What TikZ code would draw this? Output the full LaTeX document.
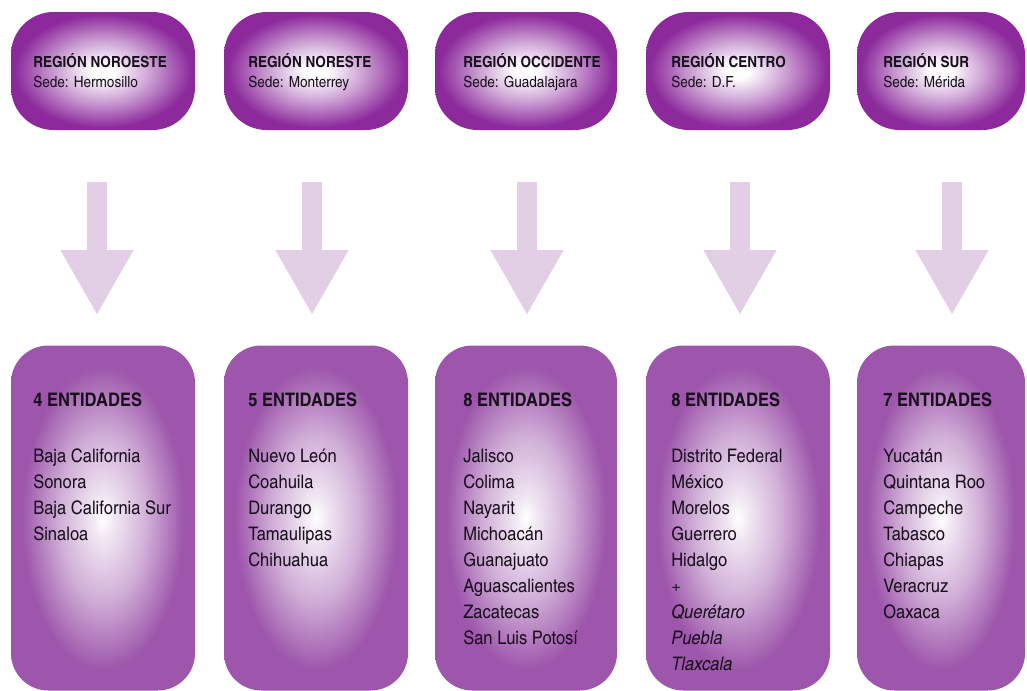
\documentclass[tikz,border=0pt]{standalone}
\usepackage{fontspec}
\setmainfont{texgyreheroscn}[Extension=.otf, UprightFont=*-regular, BoldFont=*-bold, ItalicFont=*-italic, BoldItalicFont=*-bolditalic, FakeStretch=1.08]
\usetikzlibrary{arrows.meta}

\definecolor{regionpurple}{RGB}{140,42,156}
\definecolor{statepurple}{RGB}{157,86,171}
\definecolor{arrowlilac}{RGB}{226,207,230}
\definecolor{textdark}{RGB}{24,14,28}

\pgfdeclareradialshading{regionglow}{\pgfpoint{0bp}{0bp}}{color(0bp)=(white); color(3bp)=(white); color(13bp)=(regionpurple!45!white); color(24bp)=(regionpurple); color(50bp)=(regionpurple)}
\pgfdeclareradialshading{stateglow}{\pgfpoint{0bp}{0bp}}{color(0bp)=(white); color(3bp)=(statepurple!14!white); color(12bp)=(statepurple!48!white); color(22bp)=(statepurple); color(50bp)=(statepurple)}

\newcommand\regionfont{\fontsize{11.5}{15}\selectfont}
\newcommand\statefont{\fontsize{14}{19.5}\selectfont}

\begin{document}
\begin{tikzpicture}[x=0.75pt,y=-0.75pt,
    region/.style={shading=regionglow, rounded corners=32pt, minimum height=88.5pt, inner sep=0pt},
    states/.style={shading=stateglow, rounded corners=28pt, minimum height=258.75pt, inner sep=0pt},
    boxtext/.style={anchor=base west, align=left, inner sep=0pt, text=textdark},
    statearrow/.style={draw=arrowlilac, line width=15pt, shorten <=39pt, shorten >=22.5pt, -{Triangle[width=51pt,length=48.75pt]}}]
  \path[use as bounding box] (0,0) rectangle (1027,690);
  % Regions, arrows and states (text placed by its last baseline).
  \foreach \n/\cx/\w/\tx/\dx/\reg/\sede/\cnt/\last/\list in {
      1/103/184/33/-6/NOROESTE/Hermosillo/4/4/{Baja California\\Sonora\\Baja California Sur\\Sinaloa},
      2/316/184/248/-4/NORESTE/Monterrey/5/5/{Nuevo León\\Coahuila\\Durango\\Tamaulipas\\Chihuahua},
      3/526/182/463/1/OCCIDENTE/Guadalajara/8/8/{Jalisco\\Colima\\Nayarit\\Michoacán\\Guanajuato\\Aguascalientes\\Zacatecas\\San Luis Potosí},
      4/738/184/671/2/CENTRO/D.F./8/9/{Distrito Federal\\México\\Morelos\\Guerrero\\Hidalgo\\+\\\textit{Querétaro}\\\textit{Puebla}\\\textit{Tlaxcala}},
      5/941/168/883/11/SUR/Mérida/7/7/{Yucatán\\Quintana Roo\\Campeche\\Tabasco\\Chiapas\\Veracruz\\Oaxaca}}
  {
    \node[region, minimum width=\w*0.75pt] (region-\n) at (\cx,71) {};
    \node[states, minimum width=\w*0.75pt] (states-\n) at (\cx,518) {};
    \node[boxtext, font=\regionfont] (region-text-\n) at (\tx,87) {\textbf{REGIÓN \reg}\\Sede: \sede};
    \node[boxtext, font=\statefont] (states-text-\n) at (\tx,{462+26*(\last-1)}) {\textbf{\cnt{} ENTIDADES}\\[22.5pt]\list};
    \draw[statearrow] ([xshift=\dx*0.75pt]region-\n.south) -- ([xshift=\dx*0.75pt]states-\n.north);
  }
\end{tikzpicture}
\end{document}
